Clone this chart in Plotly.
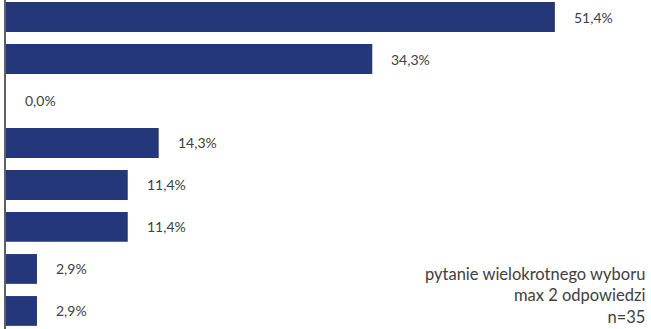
import plotly.graph_objects as go

categories = ["A", "B", "C", "D", "E", "F", "G", "H"]
values = [51.4, 34.3, 0.0, 14.3, 11.4, 11.4, 2.9, 2.9]
labels = ["51,4%", "34,3%", "0,0%", "14,3%", "11,4%", "11,4%", "2,9%", "2,9%"]
note_lines = ["pytanie wielokrotnego wyboru", "max 2 odpowiedzi", "n=35"]

fig = go.Figure()
fig.add_trace(go.Bar(
    x=values, y=categories, orientation="h",
    marker=dict(color="#23377a", line=dict(width=0)),
    width=0.71, hoverinfo="skip",
))

for c, v, t in zip(categories, values, labels):
    fig.add_annotation(x=v, y=c, text=t, xanchor="left", yanchor="middle",
                       xshift=17, showarrow=False,
                       font=dict(family="Lato", size=14, color="#404040"))

fig.add_annotation(xref="paper", yref="paper", x=1.0, y=0.0,
                   xanchor="right", yanchor="bottom", align="right",
                   text="<br>".join(note_lines), showarrow=False, xshift=-4, yshift=0,
                   font=dict(family="Lato", size=16.5, color="#404040"))

fig.update_layout(
    width=651, height=329,
    margin=dict(l=6, r=0, t=0, b=0),
    paper_bgcolor="white", plot_bgcolor="white",
    showlegend=False,
    xaxis=dict(range=[0, 60.4], visible=False, fixedrange=True),
    yaxis=dict(range=[7.43, -0.405], showticklabels=False, showgrid=False,
               zeroline=False, showline=True, linecolor="#606060", linewidth=2,
               ticks=""),
)

fig.write_html("out.html")
